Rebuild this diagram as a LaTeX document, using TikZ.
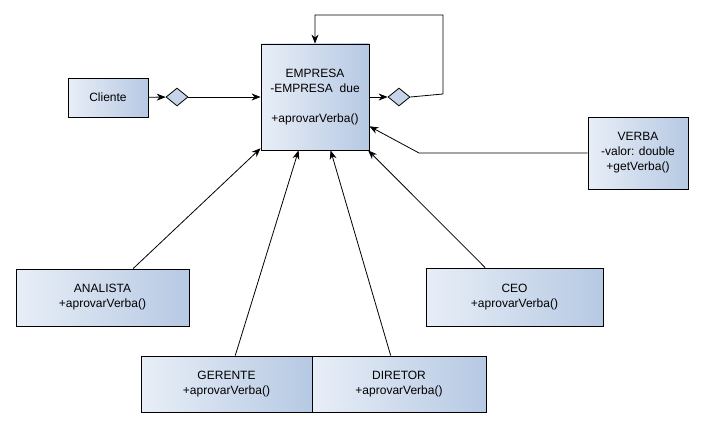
\documentclass[tikz,border=0pt]{standalone}
\usepackage{fontspec}
\setmainfont{Liberation Sans}
\usetikzlibrary{arrows.meta, shapes.geometric}
\definecolor{boxlight}{HTML}{E8EEF7}
\definecolor{boxdark}{HTML}{B6C9E3}

\begin{document}
\begin{tikzpicture}[x=1pt,y=-1pt]

\tikzset{classbox/.style = {shape=rectangle,draw,line width=0.8pt,left color=boxlight,right color=boxdark,
  align=center,inner sep=0pt,font=\fontsize{12}{15}\selectfont}}
\tikzset{agg/.style = {shape=diamond,draw,line width=0.8pt,fill=boxdark!70!boxlight,inner sep=0pt,
  minimum width=22pt,minimum height=18pt}}
\tikzset{arr/.style = {line width=0.8pt,-{Stealth[length=9pt,width=7pt]}}}
\useasboundingbox (0,0) rectangle (703,428);
%classes
\node[classbox, minimum width=108pt, minimum height=106pt] (emp) at (315,97) {EMPRESA\\-EMPRESA\ \ due\\ \\+aprovarVerba()};
\node[classbox, minimum width=80pt, minimum height=39pt] (cli) at (108,97.5) {Cliente};
\node[classbox, minimum width=100pt, minimum height=72pt] (verba) at (638,153) {VERBA\\-valor: double\\+getVerba()};
\node[classbox, minimum width=173pt, minimum height=57pt] (analista) at (102.5,297.5) {ANALISTA\\+aprovarVerba()};
\node[classbox, minimum width=171pt, minimum height=56pt] (gerente) at (226.5,384) {GERENTE\\+aprovarVerba()};
\node[classbox, minimum width=174pt, minimum height=56pt] (diretor) at (399,384) {DIRETOR\\+aprovarVerba()};
\node[classbox, minimum width=177pt, minimum height=58pt] (ceo) at (514.5,297) {CEO\\+aprovarVerba()};
%aggregation diamonds
\node[agg] (dl) at (177,97) {};
\node[agg] (dr) at (399,97) {};
\coordinate (loop1) at (443,94);
\coordinate (loop2) at (443,15);
\coordinate (vbend) at (419,153);
%edges
\draw[arr] (cli) -- (dl);
\draw[arr] (dl) -- (emp);
\draw[arr] (emp) -- (dr);
\draw[arr] (dr.east) -- (loop1) -- (loop2) -| (emp.north);
\draw[arr] (verba) -- (vbend) -- (emp);
\draw[arr] (analista) -- (emp);
\draw[arr] (gerente) -- (emp);
\draw[arr] (diretor) -- (emp);
\draw[arr] (ceo) -- (emp);

\end{tikzpicture}
\end{document}
